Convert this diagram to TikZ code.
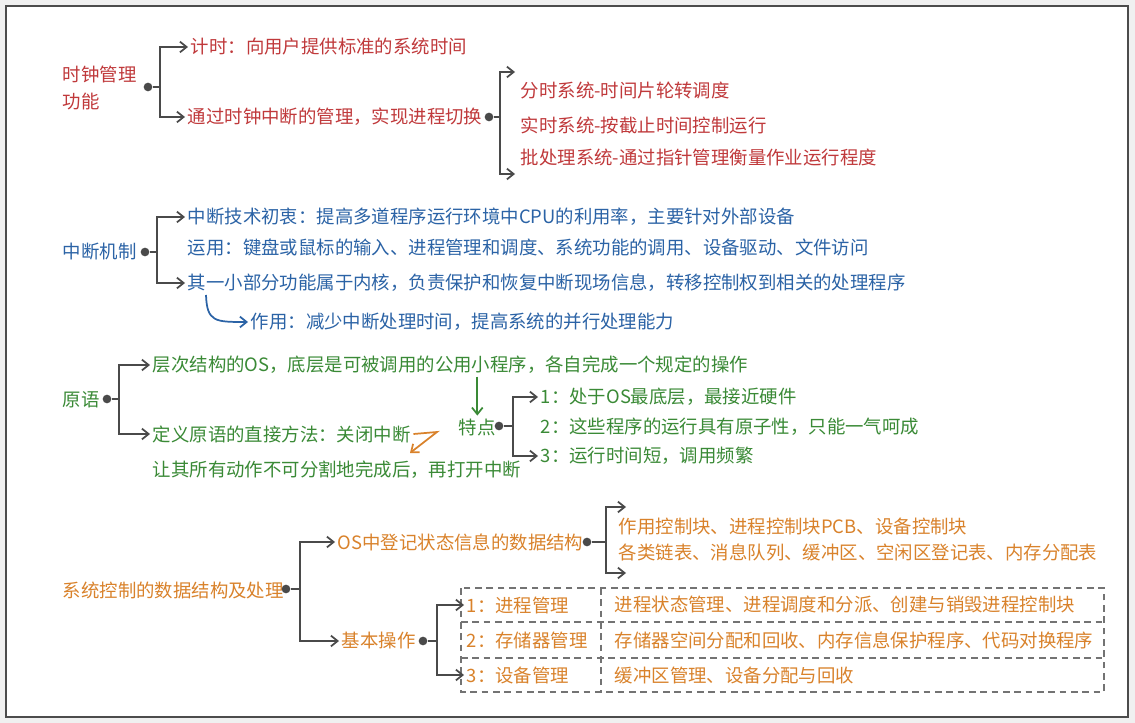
\documentclass[tikz,border=0pt]{standalone}
\usepackage{fontspec}
\usetikzlibrary{arrows.meta,calc}
\newfontfamily\cjk{Noto Sans CJK SC}
\definecolor{cred}{HTML}{C0393B}
\definecolor{cblue}{HTML}{2B63A6}
\definecolor{cgreen}{HTML}{3A8A36}
\definecolor{corange}{HTML}{D9822B}
\definecolor{lgray}{HTML}{4A4A4A}

\begin{document}
\begin{tikzpicture}[x=0.75pt,y=-0.75pt,font=\cjk\fontsize{13.8}{18}\selectfont,
  tx/.style={anchor=west,inner sep=2pt},
  ln/.style={draw=lgray,line width=1.3pt},
  ar/.style={ln,-{Straight Barb[length=5pt,width=8pt]}},
  dt/.style={circle,fill=lgray,inner sep=0pt,minimum size=6.5pt}]
  \fill[black!6] (0,0) rectangle (1135,723);
  \draw[fill=white,draw=black!70,line width=1.2pt] (6,6) rectangle (1128,717);

  \node[tx,cred,align=left] (clk) at (60,88) {时钟管理\\[2pt]功能};
  \node[dt] (dclk) at (148,87) {};
  \coordinate (bclk) at (160,87);
  \node[tx,cred] (clk1) at (188,47) {计时：向用户提供标准的系统时间};
  \node[tx,cred] (clk2) at (185,117) {通过时钟中断的管理，实现进程切换};
  \draw[ln](dclk)--(bclk);\draw[ar](bclk)|-(clk1);\draw[ar](bclk)|-(clk2);
  \node[dt] (dsw) at (489,117) {};
  \coordinate (bsw) at (500,117);
  \coordinate (sw0) at (515,72);\coordinate (sw4) at (515,174);
  \node[tx,cred] (sw1) at (518,90) {分时系统-时间片轮转调度};
  \node[tx,cred] (sw2) at (518,125) {实时系统-按截止时间控制运行};
  \node[tx,cred] (sw3) at (518,158) {批处理系统-通过指针管理衡量作业运行程度};
  \draw[ln](dsw)--(bsw);\draw[ar](bsw)|-(sw0);\draw[ar](bsw)|-(sw4);

  \node[tx,cblue] (irq) at (60,252) {中断机制};
  \node[dt] (dirq) at (145,252) {};
  \coordinate (birq) at (157,252);
  \node[tx,cblue] (irq1) at (185,217) {中断技术初衷：提高多道程序运行环境中CPU的利用率，主要针对外部设备};
  \node[tx,cblue] (irq2) at (185,247) {运用：键盘或鼠标的输入、进程管理和调度、系统功能的调用、设备驱动、文件访问};
  \node[tx,cblue] (irq3) at (185,283) {其一小部分功能属于内核，负责保护和恢复中断现场信息，转移控制权到相关的处理程序};
  \node[tx,cblue] (irq4) at (248,322) {作用：减少中断处理时间，提高系统的并行处理能力};
  \draw[ln](dirq)--(birq);\draw[ar](birq)|-(irq1);\draw[ar](birq)|-(irq3);
  \coordinate (cv) at (206,295);
  \draw[ar,draw=cblue](cv) .. controls (207,322) and (215,322) .. (irq4);

  \node[tx,cgreen] (prm) at (60,400) {原语};
  \node[dt] (dprm) at (107,399) {};
  \coordinate (bprm) at (119,399);
  \node[tx,cgreen] (prm1) at (150,365) {层次结构的OS，底层是可被调用的公用小程序，各自完成一个规定的操作};
  \node[tx,cgreen] (prm2) at (150,434) {定义原语的直接方法：关闭中断};
  \node[tx,cgreen] (prm3) at (150,470) {让其所有动作不可分割地完成后，再打开中断};
  \draw[ln](dprm)--(bprm);\draw[ar](bprm)|-(prm1);\draw[ar](bprm)|-(prm2);
  \coordinate (z1) at (437,432);\coordinate (z2) at (410,453);
  \draw[ar,draw=corange](prm2.east)--(z1)--(z2);
  \node[tx,cgreen] (ft) at (456,427) {特点};
  \draw[ar,draw=cgreen](ft.north |- prm1.south)--(ft.north);
  \node[dt] (dft) at (499,426) {};
  \coordinate (bft) at (513,426);
  \node[tx,cgreen] (ft1) at (538,397) {1：处于OS最底层，最接近硬件};
  \node[tx,cgreen] (ft2) at (538,427) {2：这些程序的运行具有原子性，只能一气呵成};
  \node[tx,cgreen] (ft3) at (538,456) {3：运行时间短，调用频繁};
  \draw[ln](dft)--(bft);\draw[ar](bft)|-(ft1);\draw[ar](bft)|-(ft3);

  \node[tx,corange] (sds) at (60,590) {系统控制的数据结构及处理};
  \node[dt] (dsds) at (286,589) {};
  \coordinate (bsds) at (300,589);
  \node[tx,corange] (os) at (335,542) {OS中登记状态信息的数据结构};
  \node[tx,corange] (bop) at (339,641) {基本操作};
  \draw[ln](dsds)--(bsds);\draw[ar](bsds)|-(os);\draw[ar](bsds)|-(bop);
  \node[dt] (dos) at (587,542) {};
  \coordinate (bos) at (606,542);
  \coordinate (os0) at (626,507);\coordinate (os3) at (626,573);
  \node[tx,corange] (os1) at (616,527) {作用控制块、进程控制块PCB、设备控制块};
  \node[tx,corange] (os2) at (616,552) {各类链表、消息队列、缓冲区、空闲区登记表、内存分配表};
  \draw[ln](dos)--(bos);\draw[ar](bos)|-(os0);\draw[ar](bos)|-(os3);
  \node[dt] (dbop) at (423,641) {};
  \coordinate (bbop) at (437,641);
  \draw[draw=black!55,line width=0.9pt,dash pattern=on 5pt off 3.5pt]
    (461,588) rectangle (1104,692) (461,622)--(1104,622) (461,658)--(1104,658) (601,588)--(601,692);
  \node[tx,corange] (op1) at (464,605) {1：进程管理};
  \node[tx,corange] (op2) at (464,640) {2：存储器管理};
  \node[tx,corange] (op3) at (464,675) {3：设备管理};
  \node[tx,corange] (op1d) at (612,605) {进程状态管理、进程调度和分派、创建与销毁进程控制块};
  \node[tx,corange] (op2d) at (612,640) {存储器空间分配和回收、内存信息保护程序、代码对换程序};
  \node[tx,corange] (op3d) at (612,675) {缓冲区管理、设备分配与回收};
  \draw[ln](dbop)--(bbop);\draw[ar](bbop)|-(op1);\draw[ar](bbop)|-(op3);
\end{tikzpicture}
\end{document}
